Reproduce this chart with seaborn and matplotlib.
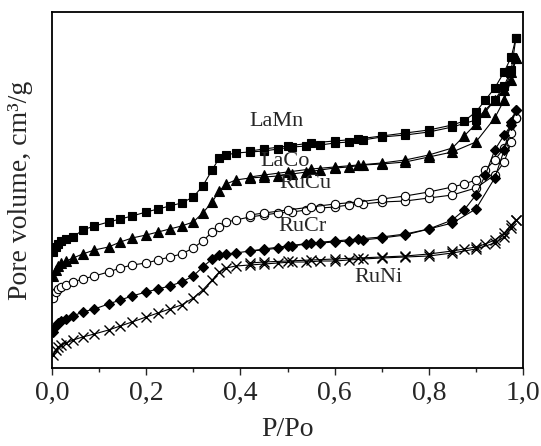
import numpy as np
import pandas as pd
import matplotlib
matplotlib.use("Agg")
import matplotlib.pyplot as plt
import seaborn as sns
from matplotlib.ticker import MultipleLocator

# Relative pressure points, adsorption branch
x_ads = [0.003, 0.008, 0.013, 0.02, 0.03, 0.045, 0.065, 0.09, 0.12, 0.145,
         0.17, 0.2, 0.225, 0.25, 0.275, 0.3, 0.32, 0.34, 0.355, 0.37,
         0.39, 0.42, 0.45, 0.48, 0.51, 0.54, 0.57, 0.6, 0.63, 0.66,
         0.7, 0.75, 0.8, 0.85, 0.9, 0.94, 0.96, 0.975, 0.985]

# Relative pressure points, desorption branch
x_des = [0.985, 0.975, 0.96, 0.94, 0.92, 0.9, 0.875, 0.85, 0.8, 0.75,
         0.7, 0.65, 0.6, 0.55, 0.5, 0.45, 0.42]

# Pore volume (arbitrary units, curves are offset as in the original)
lamn_ads = [116, 121, 124, 127, 129, 131, 138, 142, 146, 149, 152, 156, 159, 162, 165, 171,
            182, 198, 210, 213, 215, 216, 217, 219, 221, 222, 223, 225, 226, 228, 231, 233,
            236, 241, 248, 268, 282, 298, 330]
lamn_des = [330, 311, 296, 280, 268, 256, 247, 243, 238, 235, 232, 229, 227, 225, 222, 219, 217]

laco_ads = [92, 98, 102, 105, 107, 110, 114, 118, 121, 126, 130, 133, 136, 139, 142, 146,
            155, 166, 177, 184, 188, 190, 191, 192, 194, 196, 198, 200, 201, 203, 204, 206,
            211, 216, 226, 250, 268, 288, 310]
laco_des = [310, 296, 278, 268, 256, 244, 232, 220, 213, 208, 205, 203, 201, 199, 196, 193, 191]

rucu_ads = [70, 76, 79, 81, 83, 86, 89, 92, 96, 100, 103, 105, 108, 111, 114, 120,
            127, 136, 141, 146, 148, 151, 153, 155, 156, 158, 160, 161, 163, 164, 166, 167,
            170, 173, 180, 193, 206, 226, 250]
rucu_des = [250, 235, 220, 208, 198, 188, 184, 181, 176, 172, 169, 166, 164, 161, 158, 155, 153]

rucr_ads = [36, 42, 45, 47, 49, 52, 56, 59, 64, 68, 72, 76, 79, 82, 86, 92,
            101, 109, 113, 114, 115, 117, 118, 120, 122, 124, 125, 126, 127, 128, 130, 133,
            139, 145, 159, 190, 218, 246, 258]
rucr_des = [258, 243, 233, 218, 193, 173, 158, 148, 139, 134, 131, 129, 127, 125, 122, 119, 117]

runi_ads = [13, 18, 21, 23, 25, 28, 31, 34, 38, 42, 46, 51, 55, 59, 63, 70,
            78, 88, 96, 100, 102, 103, 104, 105, 106, 106, 107, 107, 108, 109, 110, 111,
            112, 115, 119, 125, 131, 140, 148]
runi_des = [148, 143, 135, 128, 124, 121, 119, 117, 114, 112, 111, 110, 109, 108, 107, 106, 105]

samples = ["LaMn", "LaCo", "RuCu", "RuCr", "RuNi"]
ads_values = [lamn_ads, laco_ads, rucu_ads, rucr_ads, runi_ads]
des_values = [lamn_des, laco_des, rucu_des, rucr_des, runi_des]

# label positions (P/Po, volume)
label_x = [0.476, 0.495, 0.537, 0.531, 0.694]
label_y = [247, 207, 184, 142, 91]

markers = {"LaMn": "s", "LaCo": "^", "RuCu": "o", "RuCr": "D", "RuNi": "x"}
msizes = {"LaMn": 5.5, "LaCo": 6.5, "RuCu": 6, "RuCr": 5.5, "RuNi": 7}

sns.set_style("white")
plt.rcParams["font.family"] = ["Liberation Serif", "DejaVu Serif"]

fig, ax = plt.subplots(figsize=(5.41, 4.46), dpi=100)
fig.subplots_adjust(left=52 / 541, right=523 / 541, top=1 - 12 / 446, bottom=1 - 368 / 446)

for name, ya, yd in zip(samples, ads_values, des_values):
    face = "white" if name == "RuCu" else "black"
    for xs, ys in ((x_ads, ya), (x_des, yd)):
        sns.lineplot(x=xs, y=ys, ax=ax, color="black", lw=0.8, sort=False,
                     estimator=None, marker=markers[name], markersize=msizes[name],
                     markerfacecolor=face, markeredgecolor="black",
                     markeredgewidth=0.8 if name != "RuNi" else 1.0)

for name, lx, ly in zip(samples, label_x, label_y):
    ax.text(lx, ly, name, fontsize=16, ha="center", va="center")

ax.set_xlim(0, 1.0)
ax.set_ylim(0, 356)
ax.set_yticks([])
ax.xaxis.set_minor_locator(MultipleLocator(0.1))
ax.set_xticks(np.arange(0, 1.01, 0.2))
ax.set_xticklabels([f"{v:.1f}".replace(".", ",") for v in np.arange(0, 1.01, 0.2)])
ax.tick_params(axis="x", which="major", direction="out", length=5, width=1.0,
               labelsize=20, pad=4, bottom=True)
ax.tick_params(axis="x", which="minor", direction="out", length=3, width=1.0, bottom=True)

for s in ax.spines.values():
    s.set_color("black")
    s.set_linewidth(1.3)

ax.set_xlabel("P/Po", fontsize=20, labelpad=8)
ax.set_ylabel("Pore volume, cm³/g", fontsize=20, labelpad=14)

fig.savefig("out.png", dpi=100)
